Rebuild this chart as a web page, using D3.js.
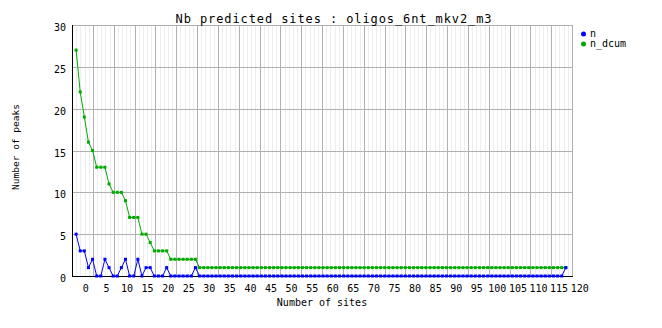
<!DOCTYPE html>
<html>
<head>
<meta charset="utf-8">
<script src="https://cdn.jsdelivr.net/npm/d3@7"></script>
<style>
  html, body { margin: 0; padding: 0; background: #fff; }
  text { font-family: "DejaVu Sans Mono", monospace; fill: #000; }
</style>
</head>
<body>
<svg id="chart" width="662" height="328"></svg>
<script>
const titleText = "Nb predicted sites : oligos_6nt_mkv2_m3";
const xTitle = "Number of sites";
const yTitle = "Number of peaks";
const seriesNames = ["n", "n_dcum"];
const seriesColors = ["#0000ff", "#00aa00"];

const xStart = -2;
const nValues = [5,3,3,1,2,0,0,2,1,0,0,1,2,0,0,2,0,1,1,0,0,0,1,0,0,0,0,0,0,1,
  0,0,0,0,0,0,0,0,0,0,0,0,0,0,0,0,0,0,0,0,0,0,0,0,0,0,0,0,0,0,
  0,0,0,0,0,0,0,0,0,0,0,0,0,0,0,0,0,0,0,0,0,0,0,0,0,0,0,0,0,0,
  0,0,0,0,0,0,0,0,0,0,0,0,0,0,0,0,0,0,0,0,0,0,0,0,0,0,0,0,0,1];
const nDcumValues = [27,22,19,16,15,13,13,13,11,10,10,10,9,7,7,7,5,5,4,3,3,3,3,2,2,2,2,2,2,2,
  1,1,1,1,1,1,1,1,1,1,1,1,1,1,1,1,1,1,1,1,1,1,1,1,1,1,1,1,1,1,
  1,1,1,1,1,1,1,1,1,1,1,1,1,1,1,1,1,1,1,1,1,1,1,1,1,1,1,1,1,1,
  1,1,1,1,1,1,1,1,1,1,1,1,1,1,1,1,1,1,1,1,1,1,1,1,1,1,1,1,1,1];
const xTickLabels = d3.range(0, 121, 5);
const yTickLabels = [0, 5, 10, 15, 20, 25, 30];

const L = 72, R = 572, T = 25, B = 276;
const svg = d3.select("#chart");

const x = d3.scaleLinear().domain([-3, 118.5]).range([L, R]);
const y = d3.scaleLinear().domain([0, 30]).range([B, T]);
const gridX = d3.scaleLinear().domain([0, 120]).range([L, R]);

// minor vertical grid
svg.append("g").selectAll("line").data(d3.range(0, 121).filter(i => i % 5 !== 0))
  .join("line")
  .attr("x1", d => Math.round(gridX(d)) + 0.5).attr("x2", d => Math.round(gridX(d)) + 0.5)
  .attr("y1", T).attr("y2", B)
  .attr("stroke", "#ededed").attr("stroke-width", 1);
// major vertical grid
svg.append("g").selectAll("line").data(d3.range(0, 121, 5))
  .join("line")
  .attr("x1", d => Math.round(gridX(d)) + 0.5).attr("x2", d => Math.round(gridX(d)) + 0.5)
  .attr("y1", T).attr("y2", B)
  .attr("stroke", "#b0b0b0").attr("stroke-width", 1);
// horizontal grid
svg.append("g").selectAll("line").data(yTickLabels)
  .join("line")
  .attr("x1", L).attr("x2", R)
  .attr("y1", d => Math.round(y(d)) + 0.5).attr("y2", d => Math.round(y(d)) + 0.5)
  .attr("stroke", "#b0b0b0").attr("stroke-width", 1);

// axes lines
svg.append("line").attr("x1", L + 0.5).attr("x2", L + 0.5).attr("y1", T).attr("y2", B + 1)
  .attr("stroke", "#000");
svg.append("line").attr("x1", L).attr("x2", R + 1).attr("y1", B + 0.5).attr("y2", B + 0.5)
  .attr("stroke", "#000");

// tick labels
svg.append("g").selectAll("text").data(yTickLabels).join("text")
  .attr("x", 66).attr("y", d => y(d) + 3)
  .attr("text-anchor", "end").attr("dominant-baseline", "middle")
  .attr("font-size", 10).text(d => d);
svg.append("g").selectAll("text").data(xTickLabels).join("text")
  .attr("x", d => x(d) + 1.5).attr("y", 289)
  .attr("text-anchor", "middle").attr("dominant-baseline", "middle")
  .attr("font-size", 10).text(d => d);

// axis titles
svg.append("text").attr("x", 322).attr("y", 303)
  .attr("text-anchor", "middle").attr("dominant-baseline", "middle")
  .attr("font-size", 10).text(xTitle);
svg.append("text").attr("transform", "translate(16,147) rotate(-90)")
  .attr("text-anchor", "middle").attr("dominant-baseline", "middle")
  .attr("font-size", 9.5).text(yTitle);

// title
svg.append("text").attr("x", 334).attr("y", 19)
  .attr("text-anchor", "middle").attr("dominant-baseline", "middle")
  .attr("font-size", 12).attr("letter-spacing", "0.9px").text(titleText);

// series
const series = [nValues, nDcumValues].map((vals, si) => ({
  name: seriesNames[si], color: seriesColors[si],
  pts: vals.map((v, i) => ({ x: xStart + i, y: v }))
}));
const line = d3.line().x(d => x(d.x)).y(d => y(d.y));
const sg = svg.append("g");
[series[1], series[0]].forEach(s => {
  sg.append("path").datum(s.pts).attr("d", line)
    .attr("fill", "none").attr("stroke", s.color).attr("stroke-width", 1);
  sg.append("g").selectAll("rect").data(s.pts).join("rect")
    .attr("x", d => x(d.x) - 1.5).attr("y", d => y(d.y) - 1.5)
    .attr("width", 3).attr("height", 3).attr("fill", s.color);
});

// legend
const lg = svg.append("g");
series.forEach((s, i) => {
  const ly = 34 + i * 10;
  lg.append("circle").attr("cx", 583.5).attr("cy", ly).attr("r", 2.5).attr("fill", s.color);
  lg.append("text").attr("x", 590).attr("y", ly)
    .attr("dominant-baseline", "middle").attr("font-size", 10).text(s.name);
});
</script>
</body>
</html>
